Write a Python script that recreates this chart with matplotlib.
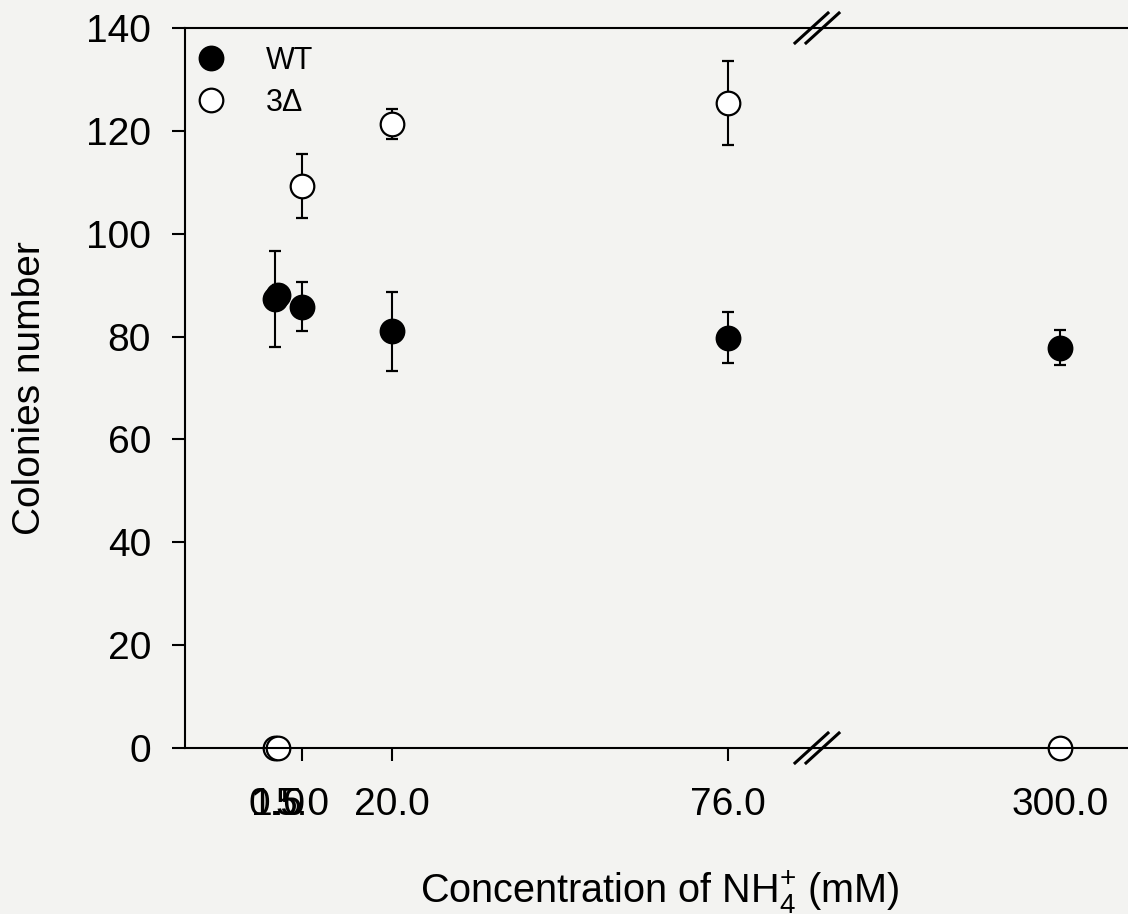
import matplotlib
matplotlib.use("Agg")
import matplotlib.pyplot as plt
from matplotlib.lines import Line2D

plt.rcParams['font.family'] = ['Liberation Sans', 'DejaVu Sans']
plt.rcParams['mathtext.fontset'] = 'custom'
plt.rcParams['mathtext.rm'] = 'Liberation Sans'

# data
conc = [0.5, 1.0, 5.0, 20.0, 76.0, 300.0]
wt_mean = [87.3, 88.0, 85.8, 81.0, 79.8, 77.8]
wt_err = [9.4, 2.0, 4.8, 7.6, 5.0, 3.4]
d3_mean = [0.0, 0.0, 109.3, 121.4, 125.4, 0.0]
d3_err = [0.0, 0.0, 6.2, 2.9, 8.1, 0.0]
xtick_vals = [0.5, 1.0, 5.0, 20.0, 76.0]
ytick_vals = [0, 20, 40, 60, 80, 100, 120, 140]

bg = '#f3f3f1'
W, H = 1128, 914
fig = plt.figure(figsize=(W / 100, H / 100), dpi=100, facecolor=bg)

x0, xb, x1 = 185, 815, 1128
ytop, ybot = 28, 748
ax1 = fig.add_axes([x0 / W, (H - ybot) / H, (xb - x0) / W, (ybot - ytop) / H])
ax2 = fig.add_axes([xb / W, (H - ybot) / H, (x1 - xb) / W, (ybot - ytop) / H], sharey=ax1)

ms = 17
mew = 1.6
lw = 1.5
for ax in (ax1, ax2):
    ax.set_facecolor(bg)
    ax.errorbar(conc, wt_mean, yerr=wt_err, fmt='o', color='black', mfc='black', mec='black',
                ms=ms, mew=mew, elinewidth=lw, capsize=4, capthick=lw, clip_on=False, zorder=2)
    ax.errorbar(conc, d3_mean, yerr=d3_err, fmt='o', color='black', mfc='white', mec='black',
                ms=ms, mew=mew, elinewidth=lw, capsize=4, capthick=lw, clip_on=False, zorder=2)
    ax.spines['right'].set_visible(False)
    for s in ax.spines.values():
        s.set_linewidth(lw)
        s.set_zorder(3)
    ax.tick_params(axis='both', direction='out', length=9.4, width=lw, labelsize=28)
    ax.tick_params(axis='x', pad=19)
    ax.tick_params(axis='y', pad=15)

ax1.set_xlim(-14.5, 90.5)
ax2.set_xlim(259.2, 311.3)
ax1.set_ylim(0, 140)
ax1.set_yticks(ytick_vals)
ax1.set_xticks(xtick_vals)
ax1.set_xticklabels([f"{v:.1f}" for v in xtick_vals])
ax2.set_xticks([300.0])
ax2.set_xticklabels(["300.0"])
ax2.spines['left'].set_visible(False)
ax2.tick_params(axis='y', left=False, labelleft=False)

fig.text(30 / W, (H - 388) / H, "Colonies number", fontsize=28, rotation=90,
         ha='center', va='center')
fig.text(660 / W, (H - 903) / H,
         r"Concentration of NH$_\mathregular{4}^\mathregular{+}$ (mM)", fontsize=28.5,
         ha='center', va='baseline')

# break marks
for yb in (ytop, ybot):
    for dx in (0, 11):
        fig.add_artist(Line2D([(795 + dx) / W, (828 + dx) / W],
                              [(H - yb - 15) / H, (H - yb + 15) / H],
                              color='black', lw=2.2, transform=fig.transFigure))

handles = [Line2D([], [], ls='none', marker='o', ms=ms, mfc='black', mec='black', mew=mew),
           Line2D([], [], ls='none', marker='o', ms=ms, mfc='white', mec='black', mew=mew)]
ax1.legend(handles, ["WT", "3\u0394"], loc='upper left', bbox_to_anchor=(0.0, 0.984),
           frameon=False, fontsize=22, handlelength=1.3, handletextpad=1.14,
           labelspacing=0.39, borderpad=0.2, borderaxespad=0)

fig.savefig("out.png", dpi=100, facecolor=bg)
